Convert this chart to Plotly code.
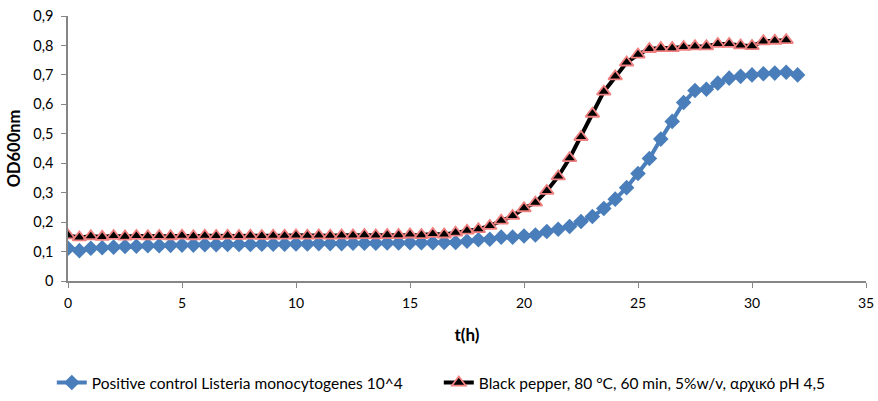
import plotly.graph_objects as go

# time points (h)
t_control = [i * 0.5 for i in range(65)]   # 0 .. 32
t_pepper = [i * 0.5 for i in range(64)]    # 0 .. 31.5

control_od = [
    0.111, 0.103, 0.111, 0.113, 0.115, 0.117, 0.118, 0.120, 0.120, 0.121,
    0.122, 0.122, 0.123, 0.123, 0.124, 0.124, 0.124, 0.125, 0.125, 0.125,
    0.126, 0.126, 0.127, 0.127, 0.127, 0.128, 0.128, 0.128, 0.129, 0.129,
    0.130, 0.130, 0.130, 0.131, 0.131, 0.135, 0.140, 0.142, 0.149, 0.149,
    0.153, 0.156, 0.168, 0.176, 0.185, 0.202, 0.219, 0.246, 0.278, 0.317,
    0.365, 0.416, 0.482, 0.542, 0.606, 0.647, 0.651, 0.672, 0.689, 0.695,
    0.700, 0.704, 0.706, 0.709, 0.700,
]

pepper_od = [
    0.155, 0.148, 0.152, 0.150, 0.153, 0.151, 0.153, 0.152, 0.153, 0.152,
    0.154, 0.152, 0.154, 0.153, 0.154, 0.153, 0.154, 0.153, 0.154, 0.154,
    0.155, 0.154, 0.155, 0.154, 0.155, 0.155, 0.156, 0.155, 0.156, 0.156,
    0.158, 0.156, 0.160, 0.158, 0.164, 0.171, 0.176, 0.187, 0.205, 0.221,
    0.247, 0.266, 0.306, 0.355, 0.417, 0.489, 0.568, 0.643, 0.695, 0.742,
    0.769, 0.788, 0.791, 0.791, 0.795, 0.797, 0.797, 0.805, 0.805, 0.800,
    0.798, 0.814, 0.816, 0.818,
]

x_ticks = [0, 5, 10, 15, 20, 25, 30, 35]
y_ticks = [0, 0.1, 0.2, 0.3, 0.4, 0.5, 0.6, 0.7, 0.8, 0.9]
y_tick_text = ["0", "0,1", "0,2", "0,3", "0,4", "0,5", "0,6", "0,7", "0,8", "0,9"]

name_control = "Positive control Listeria monocytogenes 10^4"
name_pepper = "Black pepper, 80 °C, 60 min, 5%w/v, αρχικό pH 4,5"

FONT = "Lato"
AXIS_GREY = "#868686"

fig = go.Figure()
fig.add_trace(go.Scatter(
    x=t_control, y=control_od, name=name_control, mode="lines+markers",
    line=dict(color="#4A7EBB", width=4),
    marker=dict(symbol="diamond", size=12, color="#4A7EBB"),
))
fig.add_trace(go.Scatter(
    x=t_pepper, y=pepper_od, name=name_pepper, mode="lines+markers",
    line=dict(color="#000000", width=4),
    marker=dict(symbol="triangle-up", size=12, color="#000000",
                line=dict(color="#F08080", width=1.8)),
))

fig.update_layout(
    width=878, height=401,
    margin=dict(l=68, r=12, t=16, b=120, autoexpand=False),
    paper_bgcolor="white", plot_bgcolor="white",
    font=dict(family=FONT, size=14, color="#000000"),
    showlegend=True,
    legend=dict(orientation="h", xref="container", yref="container",
                x=0.059, xanchor="left", y=0.045, yanchor="middle",
                font=dict(family=FONT, size=15.5), itemwidth=30, tracegroupgap=0,
                entrywidth=342, entrywidthmode="pixels",
                bgcolor="rgba(0,0,0,0)"),
    xaxis=dict(
        range=[0, 35], tickvals=x_ticks, showgrid=False, zeroline=False,
        showline=True, linecolor=AXIS_GREY, linewidth=1.5, automargin=False,
        ticks="outside", ticklen=5, tickcolor=AXIS_GREY, ticklabelstandoff=3,
        tickfont=dict(family=FONT, size=14),
        title=dict(text="<b>t(h)</b>", font=dict(family=FONT, size=17), standoff=20),
    ),
    yaxis=dict(
        range=[0, 0.9], tickvals=y_ticks, ticktext=y_tick_text,
        showgrid=False, zeroline=False, automargin=False,
        showline=True, linecolor=AXIS_GREY, linewidth=1.5,
        ticks="outside", ticklen=5, tickcolor=AXIS_GREY, ticklabelstandoff=5,
        tickfont=dict(family=FONT, size=14.5),
        title=dict(text="<b>OD600nm</b>", font=dict(family=FONT, size=16.5), standoff=8),
    ),
)

fig.write_html("out.html", config={"displayModeBar": False},
               post_script="document.body.style.margin='0';")
